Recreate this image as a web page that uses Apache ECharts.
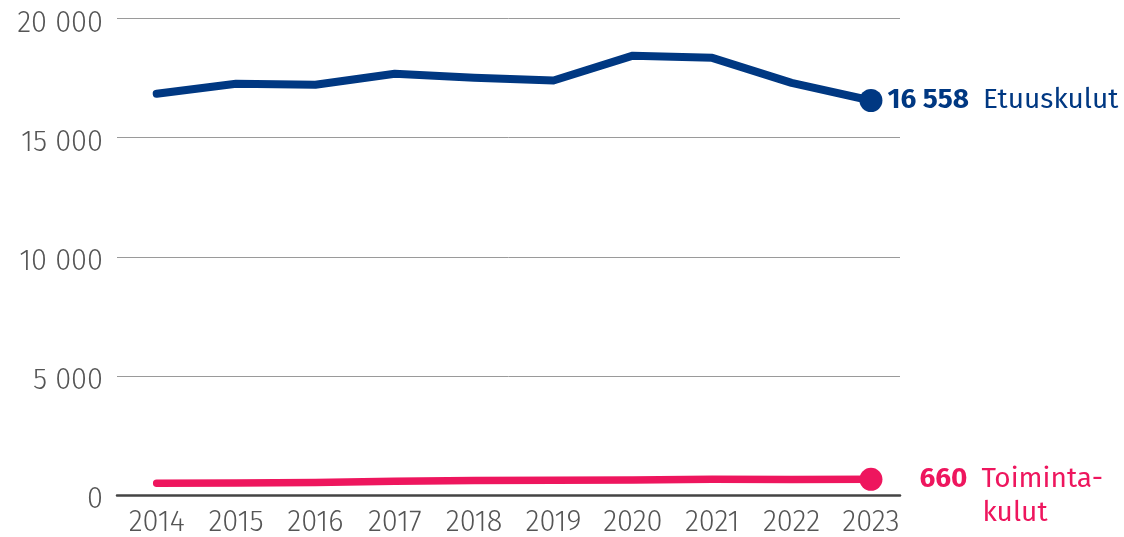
<!DOCTYPE html>
<html>
<head>
<meta charset="utf-8">
<script src="https://cdn.jsdelivr.net/npm/echarts@6/dist/echarts.min.js"></script>
<style>
  html, body { margin: 0; padding: 0; background: #fff; }
  #chart { width: 1124px; height: 537px; }
</style>
</head>
<body>
<div id="chart"></div>
<script>
const years = [2014, 2015, 2016, 2017, 2018, 2019, 2020, 2021, 2022, 2023];
const etuuskulut = [16840, 17260, 17220, 17680, 17510, 17400, 18440, 18350, 17300, 16558];
const toimintakulut = [493, 505, 522, 576, 606, 618, 630, 660, 648, 660];
const yTicks = [0, 5000, 10000, 15000, 20000];
const seriesNames = ['Etuuskulut', 'Toiminta-\nkulut'];

const BLUE = '#003882';
const PINK = '#EE165E';
const FONT = '"Fira Sans", "Open Sans", "Noto Sans", sans-serif';
const AXIS_FS = 29;
const LBL_FS = 28;

function fmt(v) {
  return String(v).replace(/\B(?=(\d{3})+(?!\d))/g, ' ');
}

function buildData(values, color, labelCfg) {
  return values.map((v, i) => {
    const item = { value: [years[i], v] };
    if (i === values.length - 1) {
      item.symbol = 'circle';
      item.symbolSize = 23;
      item.itemStyle = { color: color };
      item.label = labelCfg;
    } else {
      item.symbol = 'none';
    }
    return item;
  });
}

const lastE = etuuskulut[etuuskulut.length - 1];
const lastT = toimintakulut[toimintakulut.length - 1];
const tParts = seriesNames[1].split('\n');

const option = {
  animation: false,
  backgroundColor: '#fff',
  grid: { left: 117, right: 224, top: 18.5, bottom: 40.5 },
  xAxis: {
    type: 'value',
    min: 2013.5,
    max: 2023.366,
    splitLine: { show: false },
    axisTick: { show: false },
    axisLine: { show: true, lineStyle: { color: '#444', width: 2.5 } },
    axisLabel: {
      customValues: years,
      formatter: v => String(v),
      color: '#555',
      fontFamily: FONT,
      fontWeight: 300,
      fontSize: AXIS_FS,
      margin: 13
    }
  },
  yAxis: {
    type: 'value',
    min: yTicks[0],
    max: yTicks[yTicks.length - 1],
    interval: 5000,
    axisLine: { show: false },
    axisTick: { show: false },
    splitLine: { lineStyle: { color: '#9a9a9a', width: 1 } },
    axisLabel: {
      formatter: v => '{a|' + fmt(v) + '}',
      margin: 14,
      rich: {
        a: {
          color: '#555',
          fontFamily: FONT,
          fontWeight: 300,
          fontSize: AXIS_FS,
          padding: [10, 0, 0, 0]
        }
      }
    }
  },
  series: [
    {
      name: seriesNames[0],
      type: 'line',
      z: 3,
      showSymbol: true,
      lineStyle: { color: BLUE, width: 8, cap: 'round', join: 'round' },
      itemStyle: { color: BLUE },
      data: buildData(etuuskulut, BLUE, {
        show: true,
        position: 'right',
        distance: 5,
        formatter: '{b|' + fmt(lastE) + '}{n|' + seriesNames[0] + '}',
        rich: {
          b: { fontFamily: FONT, fontWeight: 'bold', fontSize: LBL_FS, color: BLUE },
          n: { fontFamily: FONT, fontWeight: 'normal', fontSize: LBL_FS, color: BLUE, padding: [0, 0, 0, 14] }
        }
      })
    },
    {
      name: seriesNames[1],
      type: 'line',
      z: 2,
      showSymbol: true,
      lineStyle: { color: PINK, width: 7.5, cap: 'round', join: 'round' },
      itemStyle: { color: PINK },
      data: buildData(toimintakulut, PINK, {
        show: true,
        position: 'right',
        distance: 37,
        offset: [0, 17],
        lineHeight: 34,
        formatter: '{b|' + fmt(lastT) + '}{n|' + tParts[0] + '}\n{k|' + tParts[1] + '}',
        rich: {
          b: { fontFamily: FONT, fontWeight: 'bold', fontSize: LBL_FS, color: PINK, lineHeight: 34 },
          n: { fontFamily: FONT, fontWeight: 'normal', fontSize: LBL_FS, color: PINK, lineHeight: 34, padding: [0, 0, 0, 14] },
          k: { fontFamily: FONT, fontWeight: 'normal', fontSize: LBL_FS, color: PINK, lineHeight: 34, padding: [0, 0, 0, 63] }
        }
      })
    }
  ]
};

const chart = echarts.init(document.getElementById('chart'), null, { renderer: 'canvas' });
chart.setOption(option);
</script>
</body>
</html>
